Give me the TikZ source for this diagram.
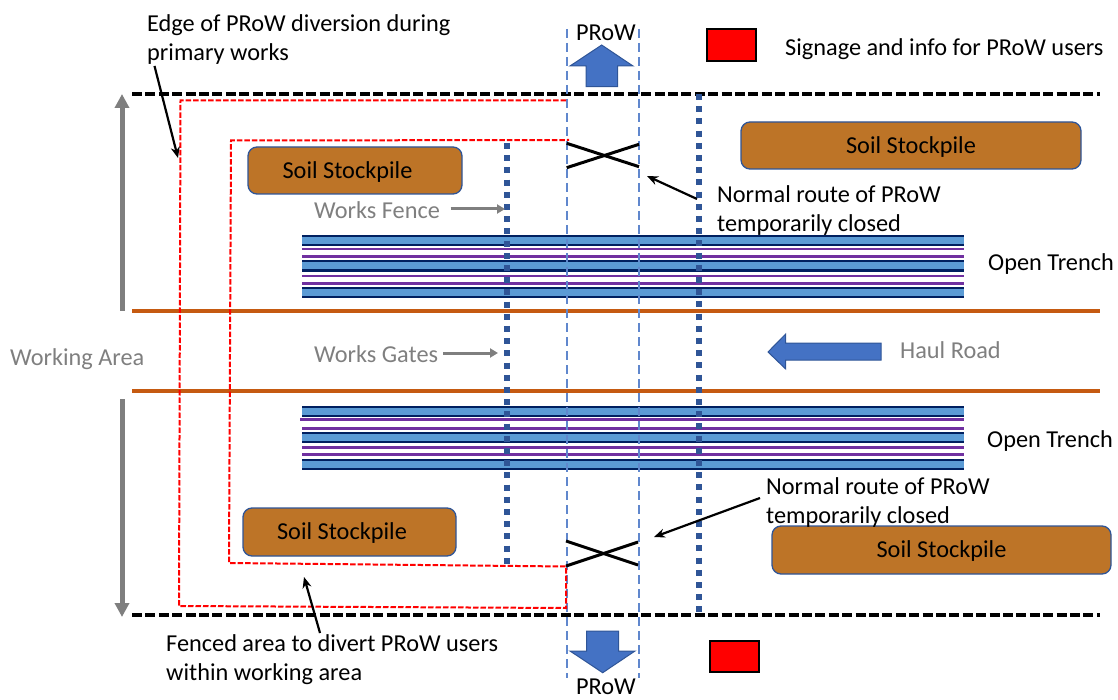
\documentclass[tikz,border=0pt]{standalone}
\usepackage{fontspec}
\setmainfont{Carlito}
\usetikzlibrary{arrows.meta}
\definecolor{fencebl}{HTML}{2F5597}
\definecolor{blockbl}{HTML}{4472C4}
\definecolor{lightbl}{HTML}{5B9BD5}
\definecolor{navybl}{HTML}{002060}
\definecolor{purp}{HTML}{7030A0}
\definecolor{roadorg}{HTML}{C55A11}
\definecolor{soil}{HTML}{BD7427}
\definecolor{txtgrey}{HTML}{7F7F7F}
\definecolor{arrgrey}{HTML}{7F7F7F}
\tikzset{
  x=1pt,y=-1pt,
  txt/.style={font=\fontsize{24.3}{29.3}\selectfont,text=black,inner sep=0pt,align=left},
  greytxt/.style={txt,text=txtgrey},
  soilbox/.style={draw=fencebl,line width=1.3pt,fill=soil,rounded corners=9pt,font=\fontsize{24.3}{29.3}\selectfont,text=black,inner sep=0pt,text height=16pt,text depth=0.6pt},
  signbox/.style={draw=black,line width=1.3pt,fill=red},
  blockarrow/.style={draw=fencebl,line width=1pt,fill=blockbl},
  fence/.style={draw=fencebl,line width=6pt,dash pattern=on 6pt off 6.2pt},
  limit/.style={draw=black,line width=3.2pt,dash pattern=on 10pt off 3.4pt},
  route/.style={draw=blockbl!85!white,line width=2pt,dash pattern=on 9pt off 5pt},
  redline/.style={draw=red,line width=2pt,dash pattern=on 5.5pt off 2pt},
  road/.style={draw=roadorg,line width=3.6pt},
  greyarrow/.style={draw=arrgrey,line width=5pt,-{Triangle[length=14pt,width=14pt]}},
  greythin/.style={draw=arrgrey,line width=3pt,-{Triangle[length=8pt,width=9pt]}},
  callout/.style={draw=black,line width=2.2pt,-{Stealth[length=11pt,width=9pt]}},
  cross/.style={draw=black,line width=3pt},
  bandfill/.style={fill=lightbl},
  band/.style={draw=navybl,line width=2.3pt},
  purpline/.style={draw=purp,line width=2.8pt},
}
\newcommand{\trenchband}[2]{%
  \fill[bandfill] (302,#1) rectangle (964,#2);
  \draw[band] (302,#1) -- (964,#1);
  \draw[band] (302,#2) -- (964,#2);}
\begin{document}
\begin{tikzpicture}
\useasboundingbox (0,0) rectangle (1118,700);
% trenches
\trenchband{236}{245}
\draw[purpline] (302,249) -- (964,249);
\draw[purpline] (302,256.7) -- (964,256.7);
\trenchband{261}{270.5}
\draw[purpline] (302,276) -- (964,276);
\draw[purpline] (302,283.7) -- (964,283.7);
\trenchband{288.3}{297.3}
\trenchband{407}{416}
\draw[purpline] (300,419.3) -- (964,419.3);
\draw[purpline] (302,428.3) -- (964,428.3);
\trenchband{432.7}{442.3}
\draw[purpline] (302,447.3) -- (964,447.3);
\draw[purpline] (302,454.3) -- (964,454.3);
\trenchband{460.3}{469}
% roads and limits
\coordinate (roadAw) at (132,311); \coordinate (roadAe) at (1100,311);
\coordinate (roadBw) at (132,391); \coordinate (roadBe) at (1100,391);
\coordinate (limAw) at (132,94);   \coordinate (limAe) at (1100,94);
\coordinate (limBw) at (132,615);  \coordinate (limBe) at (1100,615);
\draw[road] (roadAw) -- (roadAe);
\draw[road] (roadBw) -- (roadBe);
\draw[limit] (limAw) -- (limAe);
\draw[limit] (limBw) -- (limBe);
% fences
\coordinate (fenceAn) at (507,143); \coordinate (fenceAs) at (507,567);
\coordinate (fenceBn) at (699,94);  \coordinate (fenceBs) at (699,616);
\draw[fence] (fenceAn) -- (fenceAs);
\draw[fence] (fenceBn) -- (fenceBs);
% PRoW corridor
\coordinate (rtWn) at (566.5,29); \coordinate (rtWs) at (566.5,678);
\coordinate (rtEn) at (638.5,29); \coordinate (rtEs) at (638.5,678);
\draw[route] (rtWn) -- (rtWs);
\draw[route] (rtEn) -- (rtEs);
% red diversion lines
\draw[redline] (566,100.5) -- (180.5,100.5) -- (179,606) -- (566,608) -- (566,566.5) -- (229,563) -- (231,140.5) -- (569,140);
% crosses
\coordinate (xAa) at (566.7,143.3); \coordinate (xAb) at (639,166.7);
\coordinate (xAc) at (566.7,167.7); \coordinate (xAd) at (639,144.3);
\coordinate (xBa) at (566,541);     \coordinate (xBb) at (638,565);
\coordinate (xBc) at (566,566);     \coordinate (xBd) at (638,542);
\draw[cross] (xAa) -- (xAb);
\draw[cross] (xAc) -- (xAd);
\draw[cross] (xBa) -- (xBb);
\draw[cross] (xBc) -- (xBd);
% block arrows
\draw[blockarrow] (601.7,45) -- (633,66) -- (617.7,66) -- (617.7,86.7) -- (586,86.7) -- (586,66) -- (570,66) -- cycle;
\draw[blockarrow] (602.7,672.7) -- (635,651) -- (618.7,651) -- (618.7,631) -- (586.7,631) -- (586.7,651) -- (570,651) -- cycle;
\draw[blockarrow] (768,352) -- (785.7,334) -- (785.7,343) -- (881,343) -- (881,360) -- (785.7,360) -- (785.7,369) -- cycle;
% stockpiles
\node[soilbox,minimum width=214pt,minimum height=47pt] (soilA) at (355,170.5) {\kern-15pt Soil Stockpile};
\node[soilbox,minimum width=340pt,minimum height=47pt] (soilB) at (911,145.5) {Soil Stockpile};
\node[soilbox,minimum width=213pt,minimum height=48pt] (soilC) at (349.5,532) {\kern-15pt Soil Stockpile};
\node[soilbox,minimum width=339pt,minimum height=48pt,text depth=1pt] (soilD) at (941.5,550) {Soil Stockpile};
% signs
\node[signbox,minimum width=49pt,minimum height=32pt,inner sep=0pt] (signA) at (731.5,45) {};
\node[signbox,minimum width=49pt,minimum height=31pt,inner sep=0pt] (signB) at (734.5,656.5) {};
% grey arrows
\coordinate (upS) at (122,311); \coordinate (upN) at (122,94);
\coordinate (dnN) at (122,399); \coordinate (dnS) at (122,617);
\draw[greyarrow] (upS) -- (upN);
\draw[greyarrow] (dnN) -- (dnS);
% texts
\node[txt,anchor=west] (tSign) at (785,49) {Signage and info for PRoW users};
\node[txt,anchor=center] (tProwA) at (606,33) {PRoW};
\node[txt,anchor=center] (tProwB) at (606,687) {PRoW};
\node[txt,anchor=north west] (tEdge) at (147,14) {Edge of PRoW diversion during\\primary works};
\node[txt,anchor=north west] (tFenced) at (166,634) {Fenced area to divert PRoW users\\within working area};
\node[txt,anchor=north west] (tNormA) at (717,185) {Normal route of PRoW\\temporarily closed};
\node[txt,anchor=north west] (tNormB) at (766,477) {Normal route of PRoW\\temporarily closed};
\node[txt,anchor=west] (tTrA) at (988,264) {Open Trench};
\node[txt,anchor=west] (tTrB) at (987,441) {Open Trench};
\node[greytxt,anchor=west] (tArea) at (10,359) {Working Area};
\node[greytxt,anchor=west] (tFence) at (314,210) {Works Fence};
\node[greytxt,anchor=west] (tGates) at (314,354) {Works Gates};
\node[greytxt,anchor=west] (tHaul) at (900,350) {Haul Road};
% grey small arrows
\coordinate (wfStart) at (450.7,209); \coordinate (wfTip) at (505,209);
\coordinate (wgStart) at (443,353);   \coordinate (wgTip) at (498,353);
\draw[greythin] (wfStart) -- (wfTip);
\draw[greythin] (wgStart) -- (wgTip);
% callouts
\coordinate (cEdge) at (178,158);
\coordinate (cFenced) at (304,577);
\coordinate (cNormA) at (647,176);
\coordinate (cNormB) at (654,537);
\draw[callout] (154.5,66) -- (cEdge);
\draw[callout] (320,633) -- (cFenced);
\draw[callout] (697,199) -- (cNormA);
\draw[callout] (760,498) -- (cNormB);
\end{tikzpicture}
\end{document}
